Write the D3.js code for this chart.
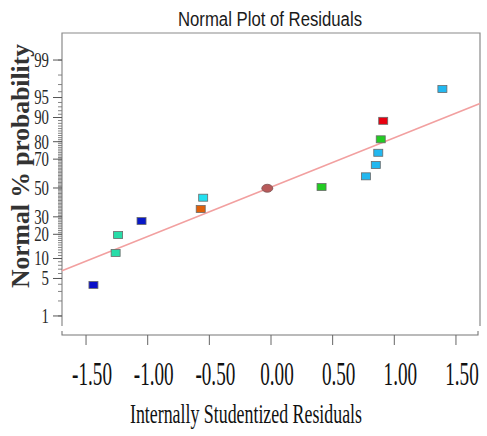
<!DOCTYPE html>
<html>
<head>
<meta charset="utf-8">
<script src="https://cdn.jsdelivr.net/npm/d3@7"></script>
<style>
  body { margin: 0; background: #fff; }
</style>
</head>
<body>
<div id="chart-area"></div>
<script>
// residuals (x) and normal % probability (y)
var residuals = [-1.44, -1.26, -1.24, -1.05, -0.57, -0.55, -0.03, 0.41, 0.77, 0.85, 0.87, 0.89, 0.91, 1.39];
var percents = [3.9, 11.9, 19.6, 27.4, 35.1, 43.0, 49.8, 50.7, 58.4, 66.2, 73.9, 81.2, 88.9, 96.4];
var pointColors = ["#0a10c8", "#28dca8", "#28dca8", "#0818c8", "#e0600a", "#22e0f0", "#b85a5a",
    "#22cc22", "#22b8f0", "#22b8f0", "#22b8f0", "#22cc22", "#e80010", "#22b8f0"];
var pointShapes = ["sq", "sq", "sq", "sq", "sq", "sq", "ell", "sq", "sq", "sq", "sq", "sq", "sq", "sq"];

var xTicks = [-1.5, -1.0, -0.5, 0, 0.5, 1.0, 1.5];
var yTicks = [1, 5, 10, 20, 30, 50, 70, 80, 90, 95, 99];
var yMinorTicks = d3.range(1, 100);

// fitted line end points (residual, percent)
var fitLine = [[-1.695, 6.6], [1.695, 93.8]];

var W = 487, H = 436;
var plotLeft = 62, plotRight = 480, plotTop = 33, plotBottom = 326, xAxisY = 335;

// inverse normal CDF (Acklam)
function probit(p) {
    var a = [-39.69683028665376, 220.9460984245205, -275.9285104469687, 138.3577518672690, -30.66479806614716, 2.506628277459239];
    var b = [-54.47609879822406, 161.5858368580409, -155.6989798598866, 66.80131188771972, -13.28068155288572];
    var c = [-0.007784894002430293, -0.3223964580411365, -2.400758277161838, -2.549732539343734, 4.374664141464968, 2.938163982698783];
    var d = [0.007784695709041462, 0.3224671290700398, 2.445134137142996, 3.754408661907416];
    var q, r;
    if (p < 0.02425) {
        q = Math.sqrt(-2 * Math.log(p));
        return (((((c[0]*q+c[1])*q+c[2])*q+c[3])*q+c[4])*q+c[5]) / ((((d[0]*q+d[1])*q+d[2])*q+d[3])*q+1);
    } else if (p > 1 - 0.02425) {
        q = Math.sqrt(-2 * Math.log(1 - p));
        return -(((((c[0]*q+c[1])*q+c[2])*q+c[3])*q+c[4])*q+c[5]) / ((((d[0]*q+d[1])*q+d[2])*q+d[3])*q+1);
    }
    q = p - 0.5; r = q * q;
    return (((((a[0]*r+a[1])*r+a[2])*r+a[3])*r+a[4])*r+a[5])*q / (((((b[0]*r+b[1])*r+b[2])*r+b[3])*r+b[4])*r+1);
}

var svg = d3.select("#chart-area").append("svg")
    .attr("width", W)
    .attr("height", H);

var x = d3.scaleLinear()
    .domain([-1.695, 1.695])
    .range([plotLeft, plotRight]);

var yz = d3.scaleLinear()
    .domain([-2.509, 2.818])
    .range([plotBottom, plotTop]);
var y = p => yz(probit(p / 100));

// title
svg.append("text")
    .attr("x", 270)
    .attr("y", 26)
    .attr("text-anchor", "middle")
    .attr("font-family", "Liberation Sans, Arial, sans-serif")
    .attr("font-size", 19.5)
    .attr("fill", "#1a1a1a")
    .attr("textLength", 184)
    .attr("lengthAdjust", "spacingAndGlyphs")
    .text("Normal Plot of Residuals");

// frame (top, right) and y axis line
svg.append("path")
    .attr("d", `M${plotLeft},${plotBottom}V${plotTop}H${plotRight}V${plotBottom}`)
    .attr("fill", "none")
    .attr("stroke", "#8a8a8a")
    .attr("stroke-width", 1.2);

// y minor ticks
svg.append("g").selectAll("line")
    .data(yMinorTicks)
    .enter().append("line")
    .attr("x1", plotLeft - 4)
    .attr("x2", plotLeft)
    .attr("y1", d => y(d))
    .attr("y2", d => y(d))
    .attr("stroke", "#777")
    .attr("stroke-width", 0.9);

// y title (drawn first so tick labels sit over it)
svg.append("text")
    .attr("transform", "translate(29,166) rotate(-90)")
    .attr("text-anchor", "middle")
    .attr("font-family", "Liberation Serif, Times New Roman, serif")
    .attr("font-weight", "bold")
    .attr("font-size", 26)
    .attr("fill", "#333")
    .attr("textLength", 244)
    .attr("lengthAdjust", "spacingAndGlyphs")
    .text("Normal % probability");

// y major ticks + labels
var yg = svg.append("g").selectAll("g")
    .data(yTicks)
    .enter().append("g")
    .attr("transform", d => `translate(0,${y(d)})`);
yg.append("line")
    .attr("x1", plotLeft - 9)
    .attr("x2", plotLeft)
    .attr("stroke", "#555")
    .attr("stroke-width", 1);
yg.append("text")
    .attr("x", 0)
    .attr("y", 0)
    .attr("dy", "0.34em")
    .attr("text-anchor", "end")
    .attr("transform", "translate(49,0) scale(0.74,1)")
    .attr("font-family", "Liberation Serif, Times New Roman, serif")
    .attr("font-size", 20)
    .attr("fill", "#2a2a2a")
    .text(d => d);

// x axis: offset line with end ticks
svg.append("path")
    .attr("d", `M${plotLeft},${xAxisY - 4}V${xAxisY}H${plotRight - 2}V${xAxisY - 4}`)
    .attr("fill", "none")
    .attr("stroke", "#777")
    .attr("stroke-width", 1.1);

var xg = svg.append("g").selectAll("g")
    .data(xTicks)
    .enter().append("g")
    .attr("transform", d => `translate(${x(d)},0)`);
xg.append("line")
    .attr("y1", xAxisY)
    .attr("y2", xAxisY + 10)
    .attr("stroke", "#666")
    .attr("stroke-width", 1);
xg.append("text")
    .attr("transform", "translate(6,385) scale(0.58,1)")
    .attr("text-anchor", "middle")
    .attr("font-family", "Liberation Serif, Times New Roman, serif")
    .attr("font-size", 33)
    .attr("fill", "#111")
    .text(d => d.toFixed(2));

// x title
svg.append("text")
    .attr("x", 246)
    .attr("y", 423)
    .attr("text-anchor", "middle")
    .attr("font-family", "Liberation Serif, Times New Roman, serif")
    .attr("font-size", 28)
    .attr("fill", "#111")
    .attr("textLength", 232)
    .attr("lengthAdjust", "spacingAndGlyphs")
    .text("Internally Studentized Residuals");

// fitted line
svg.append("line")
    .attr("x1", x(fitLine[0][0]))
    .attr("y1", y(fitLine[0][1]))
    .attr("x2", x(fitLine[1][0]))
    .attr("y2", y(fitLine[1][1]))
    .attr("stroke", "#f2a0a0")
    .attr("stroke-width", 1.6);

// points
var pts = residuals.map((r, i) => ({ r: r, p: percents[i], c: pointColors[i], s: pointShapes[i] }));
var pg = svg.append("g");
pg.selectAll("rect")
    .data(pts.filter(d => d.s === "sq"))
    .enter().append("rect")
    .attr("x", d => x(d.r) - 4.5)
    .attr("y", d => y(d.p) - 3.5)
    .attr("width", 9)
    .attr("height", 7)
    .attr("fill", d => d.c)
    .attr("stroke", "#6a6a6a")
    .attr("stroke-width", 0.8);
pg.selectAll("ellipse")
    .data(pts.filter(d => d.s === "ell"))
    .enter().append("ellipse")
    .attr("cx", d => x(d.r))
    .attr("cy", d => y(d.p))
    .attr("rx", 5.5)
    .attr("ry", 4)
    .attr("fill", d => d.c)
    .attr("stroke", "#7a5050")
    .attr("stroke-width", 0.8);
</script>
</body>
</html>
